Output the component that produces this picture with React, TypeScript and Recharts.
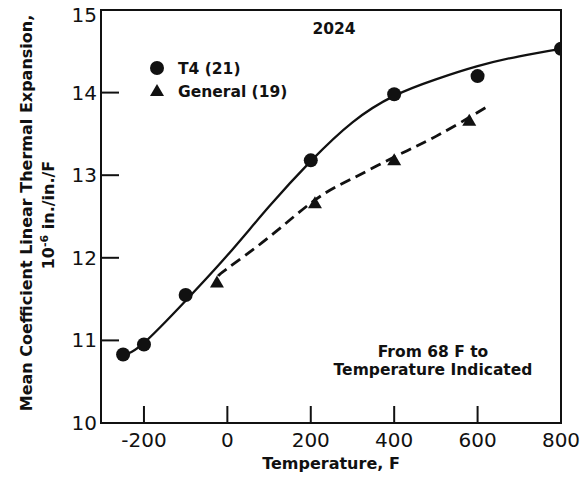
import React from 'react';
import {
  ComposedChart,
  Line,
  Scatter,
  XAxis,
  YAxis,
  ReferenceArea,
} from 'recharts';

const t4Temps = [-250, -200, -100, 200, 400, 600, 800];
const t4Values = [10.83, 10.95, 11.55, 13.18, 13.98, 14.2, 14.53];
const generalTemps = [-25, 210, 400, 580];
const generalValues = [11.7, 12.66, 13.18, 13.66];

// hand-drawn fit curves
const t4CurveTemps = [-250, -200, -100, 0, 100, 200, 300, 400, 500, 600, 700, 800];
const t4CurveValues = [10.82, 10.97, 11.48, 12.03, 12.62, 13.17, 13.64, 13.96, 14.16, 14.32, 14.44, 14.53];
const generalCurveTemps = [-22, 0, 100, 210, 300, 400, 500, 620];
const generalCurveValues = [11.78, 11.87, 12.25, 12.7, 12.96, 13.22, 13.47, 13.82];

const xTicks = [-200, 0, 200, 400, 600, 800];
const yTicks = [10, 11, 12, 13, 14, 15];
const xMin = -303;
const xMax = 800;
const yMin = 10;
const yMax = 15;

const W = 584;
const H = 479;
const INK = '#111';
const FONT = '"DejaVu Sans", sans-serif';

const zip = (xs: number[], ys: number[]) => xs.map((x, i) => ({ x, y: ys[i] }));
const t4Points = zip(t4Temps, t4Values);
const generalPoints = zip(generalTemps, generalValues);
const t4Curve = zip(t4CurveTemps, t4CurveValues);
const generalCurve = zip(generalCurveTemps, generalCurveValues);

const Dot = ({ cx, cy }: any) => <circle cx={cx} cy={cy} r={7} fill={INK} />;
const Tri = ({ cx, cy }: any) => (
  <polygon points={`${cx},${cy - 7} ${cx + 7},${cy + 5} ${cx - 7},${cy + 5}`} fill={INK} />
);

// x ticks: label below, tick mark pointing up into the plot
const XTick = ({ x, y, payload }: any) => (
  <g>
    {payload.value !== xMax && (
      <line x1={x} y1={y} x2={x} y2={y - 17} stroke={INK} strokeWidth={2} />
    )}
    <text x={x} y={y + 24} textAnchor="middle" fontFamily={FONT} fontSize={20} fill={INK}>
      {payload.value}
    </text>
  </g>
);

// y ticks: label left, tick mark pointing right into the plot
const YTick = ({ x, y, payload }: any) => (
  <g>
    {payload.value !== yMin && payload.value !== yMax && (
      <line x1={x} y1={y} x2={x + 18} y2={y} stroke={INK} strokeWidth={2} />
    )}
    <text
      x={x - 4}
      y={y + (payload.value === yMax ? 12 : 7)}
      textAnchor="end"
      fontFamily={FONT}
      fontSize={20}
      fill={INK}
    >
      {payload.value}
    </text>
  </g>
);

export default function App() {
  return (
    <div style={{ position: 'absolute', left: 0, top: 0, width: W, height: H, background: '#fff' }}>
      <ComposedChart
        width={W}
        height={H}
        margin={{ top: 10, right: 23, bottom: 0, left: 0 }}
      >
        <XAxis
          type="number"
          dataKey="x"
          domain={[xMin, xMax]}
          ticks={xTicks}
          allowDataOverflow
          tickLine={false}
          tickSize={0}
          tickMargin={0}
          height={56}
          axisLine={{ stroke: INK, strokeWidth: 2 }}
          tick={<XTick />}
        />
        <YAxis
          type="number"
          dataKey="y"
          domain={[yMin, yMax]}
          ticks={yTicks}
          allowDataOverflow
          tickLine={false}
          tickSize={0}
          tickMargin={0}
          width={101}
          axisLine={{ stroke: INK, strokeWidth: 2 }}
          tick={<YTick />}
        />
        <ReferenceArea
          x1={xMin}
          x2={xMax}
          y1={yMin}
          y2={yMax}
          fill="none"
          stroke={INK}
          strokeWidth={2}
          ifOverflow="visible"
        />
        <Line
          data={t4Curve}
          dataKey="y"
          type="natural"
          stroke={INK}
          strokeWidth={2.3}
          dot={false}
          isAnimationActive={false}
        />
        <Line
          data={generalCurve}
          dataKey="y"
          type="natural"
          stroke={INK}
          strokeWidth={2.8}
          strokeDasharray="11 6"
          dot={false}
          isAnimationActive={false}
        />
        <Scatter data={t4Points} dataKey="y" shape={<Dot />} isAnimationActive={false} />
        <Scatter data={generalPoints} dataKey="y" shape={<Tri />} isAnimationActive={false} />
      </ComposedChart>

      <svg
        width={W}
        height={H}
        style={{ position: 'absolute', left: 0, top: 0, pointerEvents: 'none' }}
        fontFamily={FONT}
        fontWeight="bold"
        fill={INK}
      >
        <text x={334} y={34} textAnchor="middle" fontSize={15.5}>2024</text>

        <circle cx={157} cy={68} r={7} fill={INK} />
        <text x={178} y={74} fontSize={15.5}>T4 (21)</text>
        <polygon points="157,84 164,96 150,96" fill={INK} />
        <text x={178} y={97} fontSize={15.5}>General (19)</text>

        <text x={433} y={357} textAnchor="middle" fontSize={15.5}>From 68 F to</text>
        <text x={433} y={375} textAnchor="middle" fontSize={15.5}>Temperature Indicated</text>

        <text x={331} y={469} textAnchor="middle" fontSize={16}>Temperature, F</text>

        <g transform="translate(32,213) rotate(-90)">
          <text x={0} y={0} textAnchor="middle" fontSize={16}>
            Mean Coefficient Linear Thermal Expansion,
          </text>
        </g>
        <g transform="translate(54,215) rotate(-90)">
          <text x={0} y={0} textAnchor="middle" fontSize={16}>
            10<tspan dy={-6} fontSize={11}>-6</tspan>
            <tspan dy={6}> in./in./F</tspan>
          </text>
        </g>
      </svg>
    </div>
  );
}
